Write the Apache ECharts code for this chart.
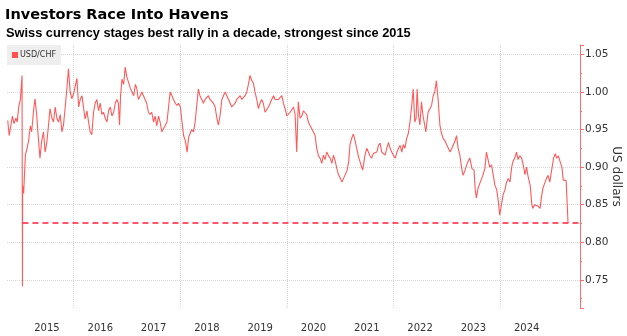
<!DOCTYPE html>
<html>
<head>
<meta charset="utf-8">
<script src="https://cdn.jsdelivr.net/npm/echarts@6/dist/echarts.min.js"></script>
<style>
html,body{margin:0;padding:0;background:#fff;}
#chart{width:627px;height:336px;}
</style>
</head>
<body>
<div id="chart"></div>
<script>
// ---- data ----
const dates = [
  '2014-10-06','2014-10-16','2014-10-27','2014-11-07','2014-11-18','2014-12-01','2014-12-10','2014-12-20',
  '2015-01-01','2015-01-12','2015-01-15','2015-01-16','2015-01-23','2015-02-04','2015-02-15','2015-02-26','2015-03-10','2015-03-19','2015-04-01','2015-04-11','2015-04-23','2015-05-04','2015-05-15','2015-05-27','2015-06-08','2015-06-19','2015-07-01','2015-07-12','2015-07-23','2015-08-05','2015-08-16','2015-08-27','2015-09-08','2015-09-19','2015-10-01','2015-10-12','2015-10-23','2015-11-03','2015-11-15','2015-11-26','2015-12-08','2015-12-19',
  '2016-01-01','2016-01-12','2016-01-23','2016-02-04','2016-02-15','2016-02-27','2016-03-08','2016-03-19','2016-04-01','2016-04-12','2016-04-23','2016-05-04','2016-05-16','2016-05-27','2016-06-08','2016-06-19','2016-07-01','2016-07-12','2016-07-23','2016-08-04','2016-08-16','2016-08-27','2016-09-08','2016-09-19','2016-10-01','2016-10-12','2016-10-23','2016-11-02','2016-11-10','2016-11-17','2016-11-27','2016-12-08','2016-12-19','2016-12-30',
  '2017-01-12','2017-01-23','2017-02-04','2017-02-15','2017-02-27','2017-03-08','2017-03-19','2017-04-01','2017-04-12','2017-04-23','2017-05-04','2017-05-15','2017-05-27','2017-06-08','2017-06-19','2017-07-01','2017-07-12','2017-07-23','2017-08-04','2017-08-15','2017-08-27','2017-09-07','2017-09-18','2017-10-01','2017-10-12','2017-10-23','2017-11-04','2017-11-15','2017-11-27','2017-12-08','2017-12-19',
  '2018-01-01','2018-01-12','2018-01-23','2018-02-04','2018-02-16','2018-02-27','2018-03-08','2018-03-20','2018-04-01','2018-04-12','2018-04-23','2018-05-04','2018-05-15','2018-05-27','2018-06-08','2018-06-19','2018-07-01','2018-07-12','2018-07-23','2018-08-04','2018-08-15','2018-08-27','2018-09-08','2018-09-19','2018-10-01','2018-10-12','2018-10-23','2018-11-04','2018-11-15','2018-11-27','2018-12-08','2018-12-19',
  '2019-01-01','2019-01-11','2019-01-22','2019-02-03','2019-02-15','2019-02-26','2019-03-08','2019-03-20','2019-04-01','2019-04-12','2019-04-23','2019-05-05','2019-05-16','2019-05-27','2019-06-08','2019-06-19','2019-07-01','2019-07-12','2019-07-23','2019-08-04','2019-08-15','2019-08-27','2019-09-08','2019-09-19','2019-10-01','2019-10-12','2019-10-23','2019-11-04','2019-11-15','2019-11-27','2019-12-08','2019-12-19',
  '2020-01-01','2020-01-12','2020-01-23','2020-02-04','2020-02-15','2020-02-26','2020-03-08','2020-03-13','2020-03-19','2020-03-31','2020-04-12','2020-04-23','2020-05-04','2020-05-15','2020-05-27','2020-06-08','2020-06-19','2020-07-01','2020-07-12','2020-07-23','2020-08-04','2020-08-15','2020-08-27','2020-09-07','2020-09-18','2020-09-30','2020-10-12','2020-10-23','2020-11-04','2020-11-15','2020-11-27','2020-12-08','2020-12-19',
  '2021-01-01','2021-01-12','2021-01-23','2021-02-04','2021-02-15','2021-02-27','2021-03-08','2021-03-19','2021-03-31','2021-04-12','2021-04-23','2021-05-04','2021-05-16','2021-05-27','2021-06-03','2021-06-19','2021-07-01','2021-07-12','2021-07-23','2021-08-04','2021-08-15','2021-08-27','2021-09-08','2021-09-19','2021-09-30','2021-10-12','2021-10-23','2021-11-04','2021-11-15','2021-11-27','2021-12-08','2021-12-19',
  '2022-01-01','2022-01-12','2022-01-24','2022-02-04','2022-02-15','2022-02-26','2022-03-08','2022-03-19','2022-03-31','2022-04-12','2022-04-23','2022-05-04','2022-05-15','2022-05-26','2022-06-04','2022-06-11','2022-06-20','2022-06-30','2022-07-11','2022-07-20','2022-07-29','2022-08-10','2022-08-25','2022-09-07','2022-09-18','2022-09-29','2022-10-10','2022-10-21','2022-11-02','2022-11-14','2022-11-25','2022-12-07','2022-12-19',
  '2023-01-01','2023-01-12','2023-01-23','2023-02-04','2023-02-15','2023-02-26','2023-03-08','2023-03-19','2023-03-31','2023-04-11','2023-04-22','2023-05-04','2023-05-15','2023-05-27','2023-06-07','2023-06-22','2023-07-06','2023-07-14','2023-07-22','2023-08-03','2023-08-14','2023-08-25','2023-09-06','2023-09-18','2023-09-29','2023-10-10','2023-10-21','2023-11-03','2023-11-14','2023-11-26','2023-12-08','2023-12-19','2023-12-29',
  '2024-01-10','2024-01-21','2024-02-03','2024-02-14','2024-02-25','2024-03-08','2024-03-20','2024-03-28','2024-04-10','2024-04-22','2024-05-03','2024-05-15','2024-05-27','2024-06-07','2024-06-19','2024-06-30','2024-07-09','2024-07-25','2024-08-05','2024-08-12','2024-08-23','2024-09-04','2024-09-16','2024-09-30','2024-10-10','2024-10-20','2024-11-01','2024-11-13','2024-11-24','2024-12-06','2024-12-18',
  '2025-01-01','2025-01-13','2025-01-22','2025-02-03','2025-02-15','2025-02-27','2025-03-08','2025-03-19','2025-03-28','2025-04-02','2025-04-10'
];
const usdchf = [
  0.962,0.942,0.955,0.968,0.958,0.965,0.960,0.980,
  0.990,1.022,0.741,0.875,0.865,0.916,0.925,0.935,0.955,0.947,0.975,0.991,0.968,0.938,0.912,0.935,0.947,0.920,0.933,0.955,0.978,0.965,0.960,0.980,0.965,0.960,0.970,0.947,0.956,0.978,1.004,1.031,1.000,0.991,
  0.998,0.996,1.018,0.980,0.990,0.995,0.980,0.964,0.975,0.960,0.947,0.943,0.973,0.985,0.990,0.975,0.985,0.970,0.973,0.965,0.960,0.975,0.980,0.968,0.973,0.985,0.990,0.985,0.956,0.995,1.017,1.010,1.033,1.020,
  1.020,1.005,1.000,0.995,1.010,1.005,0.990,0.995,1.000,0.995,0.990,0.985,0.973,0.970,0.973,0.960,0.968,0.955,0.968,0.960,0.947,0.946,0.955,0.960,0.980,1.000,0.995,0.990,0.985,0.982,0.985,
  0.980,0.960,0.942,0.935,0.920,0.940,0.938,0.950,0.947,0.960,0.960,1.004,0.995,0.990,0.985,0.990,0.990,0.995,0.990,0.990,0.985,0.980,0.965,0.956,0.970,0.990,0.995,1.000,0.995,0.990,0.990,0.980,
  0.978,0.985,0.990,0.990,0.995,0.990,0.990,0.995,1.000,1.010,1.022,1.015,1.012,1.000,0.990,0.978,0.985,0.990,0.985,0.973,0.975,0.980,0.985,0.990,0.995,0.990,0.988,0.990,0.990,0.995,0.985,0.978,
  0.968,0.969,0.973,0.975,0.980,0.970,0.920,0.950,0.987,0.965,0.968,0.975,0.976,0.970,0.960,0.955,0.951,0.950,0.942,0.925,0.915,0.912,0.905,0.916,0.910,0.920,0.915,0.912,0.905,0.916,0.908,0.898,0.890,
  0.885,0.880,0.885,0.890,0.895,0.907,0.930,0.938,0.944,0.935,0.925,0.915,0.907,0.900,0.896,0.916,0.925,0.920,0.915,0.912,0.918,0.916,0.920,0.929,0.932,0.920,0.918,0.916,0.925,0.933,0.925,0.920,
  0.915,0.912,0.920,0.925,0.929,0.920,0.930,0.925,0.938,0.945,0.960,0.980,1.004,0.960,0.965,1.004,0.970,0.956,0.987,0.970,0.960,0.947,0.973,0.975,0.982,0.995,1.000,1.015,0.990,0.956,0.945,0.938,0.935,
  0.929,0.930,0.920,0.925,0.925,0.935,0.942,0.925,0.916,0.900,0.889,0.895,0.902,0.908,0.912,0.898,0.896,0.870,0.859,0.872,0.878,0.880,0.890,0.898,0.920,0.910,0.900,0.903,0.890,0.876,0.870,0.855,0.836,
  0.850,0.863,0.870,0.880,0.885,0.880,0.900,0.907,0.912,0.920,0.910,0.915,0.912,0.903,0.890,0.900,0.889,0.875,0.850,0.845,0.850,0.850,0.848,0.845,0.860,0.872,0.870,0.885,0.889,0.880,0.895,
  0.912,0.918,0.912,0.915,0.907,0.900,0.883,0.885,0.882,0.880,0.826
];
const yearLabels = ['2015','2016','2017','2018','2019','2020','2021','2022','2023','2024'];
const gridYears = ['2016','2018','2020','2022','2024'];
const refLevel = 0.8255;      // dashed reference level
const refStart = '2015-01-15';
const xStart = '2014-10-01';
const xEnd = '2025-07-01';
const yMin = 0.7125, yMax = 1.0625;

if (dates.length !== usdchf.length) console.error('length mismatch', dates.length, usdchf.length);

// quarterly positions used for the label / gridline axis
const quarters = [];
for (let y = 2014; y <= 2025; y++) {
  for (const m of ['01', '04', '07', '10']) {
    const d = y + '-' + m + '-01';
    if (d >= xStart && d <= xEnd) quarters.push(d);
  }
}

const FONT = 'DejaVu Sans';
const chart = echarts.init(document.getElementById('chart'), null, {renderer: 'canvas'});
chart.setOption({
  animation: false,
  backgroundColor: '#fff',
  title: [
    {text: 'Investors Race Into Havens', left: 5, top: 8, padding: 0,
     textStyle: {fontFamily: FONT, fontWeight: 'bold', fontSize: 14.5, color: '#000'}},
    {text: 'Swiss currency stages best rally in a decade, strongest since 2015', left: 6, top: 26.5, padding: 0,
     textStyle: {fontFamily: 'Liberation Sans', fontWeight: 'bold', fontSize: 12.8, color: '#000'}}
  ],
  legend: {
    left: 7, top: 45, padding: [6, 5, 6, 5],
    backgroundColor: '#eeeeee',
    itemWidth: 6, itemHeight: 6, icon: 'rect',
    textStyle: {fontFamily: FONT, fontSize: 8, color: '#333', padding: [0, 0, 0, -3]},
    data: [{name: 'USD/CHF', itemStyle: {color: '#ff5050'}}]
  },
  grid: {left: 7, right: 47, top: 45, bottom: 28, outerBoundsMode: 'none', containLabel: false},
  xAxis: [
    {type: 'time', min: xStart, max: xEnd, show: false},
    {type: 'category', data: quarters, boundaryGap: false, position: 'bottom',
     axisLine: {show: false}, axisTick: {show: false},
     axisLabel: {
       interval: (i, v) => v.endsWith('-07-01') && yearLabels.includes(v.slice(0, 4)),
       formatter: v => v.slice(0, 4),
       fontFamily: FONT, fontSize: 10, color: '#333', margin: 15
     },
     splitLine: {show: true,
       interval: (i, v) => v.endsWith('-01-01') && gridYears.includes(v.slice(0, 4)),
       lineStyle: {type: 'dotted', color: '#d6d6d6', width: 1}}
    }
  ],
  yAxis: {
    type: 'value', position: 'right', min: yMin, max: yMax, splitNumber: 7,
    name: 'US dollars', nameLocation: 'middle', nameRotate: -90, nameGap: 36,
    nameMoveOverlap: false,
    nameTextStyle: {fontFamily: FONT, fontSize: 12, color: '#333', align: 'center', verticalAlign: 'middle'},
    axisLine: {show: true, lineStyle: {color: '#ff6e6e', width: 1}},
    axisTick: {show: true, length: 4, lineStyle: {color: '#ff6e6e'}},
    minorTick: {show: true, splitNumber: 2, length: 2, lineStyle: {color: '#ff6e6e'}},
    axisLabel: {showMinLabel: false, showMaxLabel: false, margin: 5,
      formatter: v => v.toFixed(2), fontFamily: FONT, fontSize: 10.5, color: '#333'},
    splitLine: {show: true, showMinLine: false, showMaxLine: false,
      lineStyle: {type: 'dotted', color: '#d6d6d6', width: 1}}
  },
  series: [{
    name: 'USD/CHF', type: 'line', xAxisIndex: 0,
    data: dates.map((d, i) => [d, usdchf[i]]),
    symbol: 'none', showSymbol: false,
    lineStyle: {color: '#ff5a5a', width: 1.1},
    itemStyle: {color: '#ff5050'},
    markLine: {
      silent: true, symbol: 'none', label: {show: false},
      lineStyle: {type: [6, 4], color: '#ff1f3a', width: 1.6},
      data: [[{coord: [refStart, refLevel]}, {coord: [xEnd, refLevel]}]]
    }
  }]
});
</script>
</body>
</html>
